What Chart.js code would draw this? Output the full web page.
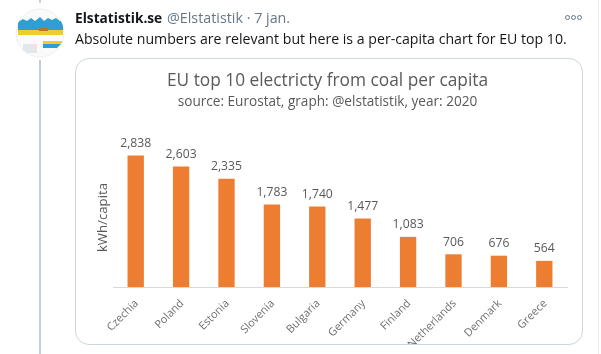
<!DOCTYPE html>
<html>
<head>
<meta charset="utf-8">
<title>EU top 10 electricty from coal per capita</title>
<script src="https://cdn.jsdelivr.net/npm/chart.js@4"></script>
<style>
html, body { margin: 0; padding: 0; background: #fff; }
body { width: 601px; height: 354px; overflow: hidden; position: relative; font-family: "Open Sans", sans-serif; color: #14171a; }
.abs { position: absolute; white-space: nowrap; }
#thread-top { left: 39px; top: 0; width: 2px; height: 3px; background: #c4cfd6; }
#thread { left: 39px; top: 60px; width: 2px; height: 294px; background: #c4cfd6; }
#edge { left: 598px; top: 0; width: 1px; height: 354px; background: #e6ecf0; }
#avatar { left: 15px; top: 8px; filter: blur(0.6px); }
#name { left: 75px; top: 8px; font-size: 13.7px; font-weight: 700; filter: blur(0.25px); }
#handle { left: 167px; top: 8px; font-size: 14.3px; color: #657786; filter: blur(0.25px); }
#text { left: 75px; top: 29px; font-size: 14.15px; filter: blur(0.25px); }
.dot { top: 15px; width: 3px; height: 3px; border: 1px solid #657786; border-radius: 50%; }
#card { left: 75px; top: 58px; width: 506px; height: 285px; border: 1px solid #ccd6dd; border-radius: 14px; overflow: hidden; }
#chart { position: absolute; left: 0; top: 0; filter: blur(0.35px); }
</style>
</head>
<body>
<div class="abs" id="thread-top"></div>
<div class="abs" id="thread"></div>
<div class="abs" id="edge"></div>
<svg class="abs" id="avatar" width="50" height="50" viewBox="0 0 50 50">
    <defs><clipPath id="round"><circle cx="25" cy="25" r="24"></circle></clipPath></defs>
    <circle cx="25" cy="25" r="24" fill="#fafafa" stroke="#eceff1"></circle>
    <g clip-path="url(#round)">
        <polygon fill="#2e9fd0" points="3,14 8,11 12,13 16,10 20,13 25,9 29,13 33,10 37,12 41,10 45,13 48,13 48,23 3,23"></polygon>
        <rect x="3" y="22" width="45" height="5" fill="#f2cb2c"></rect>
        <rect x="24" y="20" width="9" height="3" fill="#b9722c"></rect>
        <rect x="8" y="36" width="14" height="9" fill="#e4e7ea"></rect>
        <polygon fill="#f2cb2c" points="28,33 48,33 46,36 28,36"></polygon>
        <polygon fill="#2e9fd0" points="28,36 46,36 42,40 28,40"></polygon>
    </g>
</svg>
<div class="abs" id="name">Elstatistik.se</div>
<div class="abs" id="handle">@Elstatistik · 7 jan.</div>
<div class="abs" id="text">Absolute numbers are relevant but here is a per-capita chart for EU top 10.</div>
<div class="abs dot" style="left:565px"></div>
<div class="abs dot" style="left:571px"></div>
<div class="abs dot" style="left:577px"></div>
<div class="abs" id="card"><canvas id="chart" width="506" height="285"></canvas></div>
<script>
var countries = ['Czechia', 'Poland', 'Estonia', 'Slovenia', 'Bulgaria', 'Germany', 'Finland', 'Netherlands', 'Denmark', 'Greece'];
var kwh_per_capita = [2838, 2603, 2335, 1783, 1740, 1477, 1083, 706, 676, 564];

// no datalabels plugin here, so the value labels are drawn by hand
var valueLabels = {
    id: 'valueLabels',
    afterDatasetsDraw: function (chart) {
        var ctx = chart.ctx;
        ctx.save();
        ctx.font = '500 12.2px "Open Sans"';
        ctx.fillStyle = '#595959';
        ctx.textAlign = 'center';
        ctx.textBaseline = 'bottom';
        chart.getDatasetMeta(0).data.forEach(function (bar, i) {
            ctx.fillText(kwh_per_capita[i].toLocaleString('en-US'), bar.x, bar.y - 6);
        });
        ctx.restore();
    }
};

new Chart(document.getElementById('chart'), {
    type: 'bar',
    data: {
        labels: countries,
        datasets: [{
            label: 'kWh/capita',
            data: kwh_per_capita,
            backgroundColor: '#ed7d31',
            barPercentage: 0.36,
            categoryPercentage: 1
        }]
    },
    plugins: [valueLabels],
    options: {
        responsive: false,
        animation: false,
        layout: { padding: { left: 12, right: 15 } },
        plugins: {
            legend: { display: false },
            tooltip: { enabled: false },
            title: {
                display: true,
                text: 'EU top 10 electricty from coal per capita',
                color: '#595959',
                font: { family: '"Open Sans"', size: 17.3, weight: '500' },
                padding: { top: 12, bottom: 0 }
            },
            subtitle: {
                display: true,
                text: 'source: Eurostat, graph: @elstatistik, year: 2020',
                color: '#595959',
                font: { family: '"Open Sans"', size: 13.6, weight: '500' },
                padding: { top: 2, bottom: 38 }
            }
        },
        scales: {
            x: {
                grid: { display: false, drawTicks: false },
                border: { color: '#d9d9d9' },
                ticks: {
                    color: '#707070',
                    font: { family: '"Open Sans"', size: 11 },
                    minRotation: 45,
                    maxRotation: 45,
                    autoSkip: false,
                    padding: 10,
                    labelOffset: 1
                },
                afterFit: function (scale) { scale.height = 57; }
            },
            y: {
                min: 0,
                max: 3000,
                grid: { display: false, drawTicks: false },
                border: { display: false },
                ticks: { display: false },
                title: {
                    display: true,
                    text: 'kWh/capita',
                    color: '#595959',
                    font: { family: '"Open Sans"', size: 13.2 },
                    padding: { top: 7, bottom: 0 }
                },
                afterFit: function (scale) { scale.width = 25; }
            }
        }
    }
});
</script>
</body>
</html>
